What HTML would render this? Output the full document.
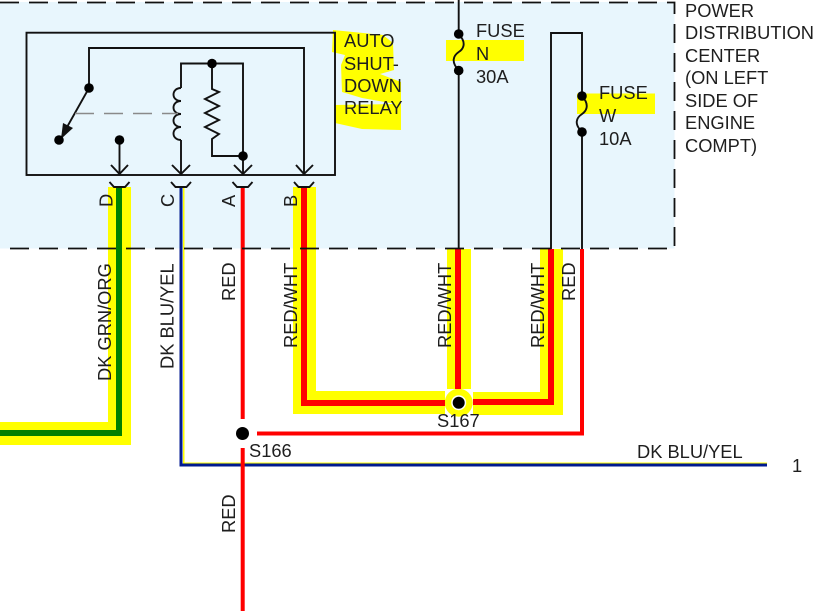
<!DOCTYPE html>
<html>
<head>
<meta charset="utf-8">
<style>
html,body{margin:0;padding:0;background:#fff;}
svg{display:block;}
text{font-family:"Liberation Sans",sans-serif;font-size:18.3px;fill:#1e1e1e;}
</style>
</head>
<body>
<svg width="825" height="611" viewBox="0 0 825 611" xmlns="http://www.w3.org/2000/svg">
<rect width="825" height="611" fill="#fff"/>
<rect x="0" y="2" width="674.5" height="246.5" fill="#e8f6fd"/>

<!-- highlights in box -->
<path d="M333 30 L383 35 L393 43 L394 70 L380 74 L401 82 L401 130 L362 129 L335 123 L335 105 L396 104 L362 98 L342 92 L341 65 L345 55 L332 52 Z" fill="#ffff00"/>
<rect x="446" y="40" width="78" height="21" fill="#ffff00"/>
<rect x="577" y="93.5" width="78" height="20.5" fill="#ffff00"/>

<!-- yellow wires -->
<g fill="#ffff00">
<path d="M108 187H131V445H0V422H108Z"/>
<path d="M293 187H316V391H445V414H293Z"/>
<rect x="447" y="249" width="24" height="140"/>
<path d="M540 249H563V415H473V392H540Z"/>
<rect x="183" y="187" width="1.5" height="276"/>
<rect x="183" y="462.5" width="584" height="1.5"/>
</g>
<circle cx="458.7" cy="402.7" r="14" fill="#ffff00"/>

<!-- coloured wires -->
<path d="M119 187V433H0" fill="none" stroke="#008000" stroke-width="6"/>
<path d="M304 187V403H445" fill="none" stroke="#ff0000" stroke-width="6"/>
<path d="M458 249V389" fill="none" stroke="#ff0000" stroke-width="6"/>
<path d="M551 249V402H473" fill="none" stroke="#ff0000" stroke-width="6"/>
<path d="M181 187V465H767" fill="none" stroke="#001a90" stroke-width="3"/>
<path d="M242.700 187V419M242.700 448V611" fill="none" stroke="#ff0000" stroke-width="4"/>
<path d="M257 433.500H582V249" fill="none" stroke="#ff0000" stroke-width="4"/>

<!-- splices -->
<circle cx="242.500" cy="433.500" r="6.500" fill="#000"/>
<circle cx="458.700" cy="402.700" r="7.500" fill="#fff"/>
<circle cx="458.700" cy="402.700" r="6" fill="#000"/>

<!-- dashed boundary -->
<path d="M0 2.500H674.500V248.500H0" fill="none" stroke="#111" stroke-width="1.800" stroke-dasharray="19 10"/>

<!-- relay -->
<g fill="none" stroke="#111" stroke-width="1.900">
<rect x="26.500" y="32.700" width="308.500" height="142.300"/>
<path d="M89 88V48H304V174"/>
<path d="M296 165L304 174L313 165"/>
<path d="M119.500 140V174"/>
<path d="M111 165L119.500 174L128 165"/>
<path d="M181 88V63.500H243V174"/>
<path d="M181 140V174"/>
<path d="M172 165L181 174L190 165"/>
<path d="M234 165L243 174L252 165"/>
<path d="M181 88C171 88 171 101 181 101C171 101 171 114 181 114C171 114 171 127 181 127C171 127 171 140 181 140"/>
<path d="M212 63.500V89L219 92L205 99L219 106L205 113L219 120L205 127L219 134L212 139V156H243"/>
<path d="M89 88L62 136"/>
<!-- connector chevrons -->
<path d="M109.500 182L114 187H125L129.500 182"/>
<path d="M171 182L175.500 187H186.500L191 182"/>
<path d="M232.500 182L237 187H248L252.500 182"/>
<path d="M294 182L298.500 187H309.500L314 182"/>
</g>
<path d="M75 113.500H178" fill="none" stroke="#8a8a8a" stroke-width="1.500" stroke-dasharray="19 10"/>
<path d="M61 139L63 123L73 128Z" fill="#111"/>
<g fill="#000">
<circle cx="89" cy="88" r="4.800"/>
<circle cx="59" cy="140" r="4.800"/>
<circle cx="119.500" cy="140" r="4.800"/>
<circle cx="212" cy="63.500" r="4.800"/>
<circle cx="243" cy="156" r="4.800"/>
</g>

<!-- fuses -->
<g fill="none" stroke="#111" stroke-width="1.900">
<path d="M458.700 0V34C468 44 462 50 458.700 52C453 56 451 62 458.700 70.500V249"/>
<path d="M551 249V33H582V96C591 106 585 112 582 114C576 118 574 124 582 132V249"/>
</g>
<g fill="#000">
<circle cx="458.700" cy="34" r="4.800"/>
<circle cx="458.700" cy="70.500" r="4.800"/>
<circle cx="582" cy="96" r="4.800"/>
<circle cx="582" cy="132" r="4.800"/>
</g>

<!-- horizontal labels -->
<text x="344" y="47">AUTO</text>
<text x="344" y="70">SHUT-</text>
<text x="344" y="92">DOWN</text>
<text x="344" y="114">RELAY</text>
<text x="476" y="37">FUSE</text>
<text x="476" y="60">N</text>
<text x="476" y="83">30A</text>
<text x="599" y="99">FUSE</text>
<text x="599" y="122">W</text>
<text x="599" y="145">10A</text>
<text x="685" y="17">POWER</text>
<text x="685" y="39">DISTRIBUTION</text>
<text x="685" y="62">CENTER</text>
<text x="685" y="84">(ON LEFT</text>
<text x="685" y="107">SIDE OF</text>
<text x="685" y="129">ENGINE</text>
<text x="685" y="152">COMPT)</text>
<text x="249" y="457">S166</text>
<text x="437" y="427">S167</text>
<text x="637" y="458">DK BLU/YEL</text>
<text x="792" y="472">1</text>

<!-- vertical labels -->
<text transform="translate(112.500 207) rotate(-90)">D</text>
<text transform="translate(174 207) rotate(-90)">C</text>
<text transform="translate(235 207) rotate(-90)">A</text>
<text transform="translate(297 207) rotate(-90)">B</text>
<text transform="translate(111 381) rotate(-90)">DK GRN/ORG</text>
<text transform="translate(173.500 369) rotate(-90)">DK BLU/YEL</text>
<text transform="translate(235 301) rotate(-90)">RED</text>
<text transform="translate(297 348) rotate(-90)">RED/WHT</text>
<text transform="translate(451 348) rotate(-90)">RED/WHT</text>
<text transform="translate(544 348) rotate(-90)">RED/WHT</text>
<text transform="translate(575 301) rotate(-90)">RED</text>
<text transform="translate(235 533) rotate(-90)">RED</text>
</svg>
</body>
</html>
